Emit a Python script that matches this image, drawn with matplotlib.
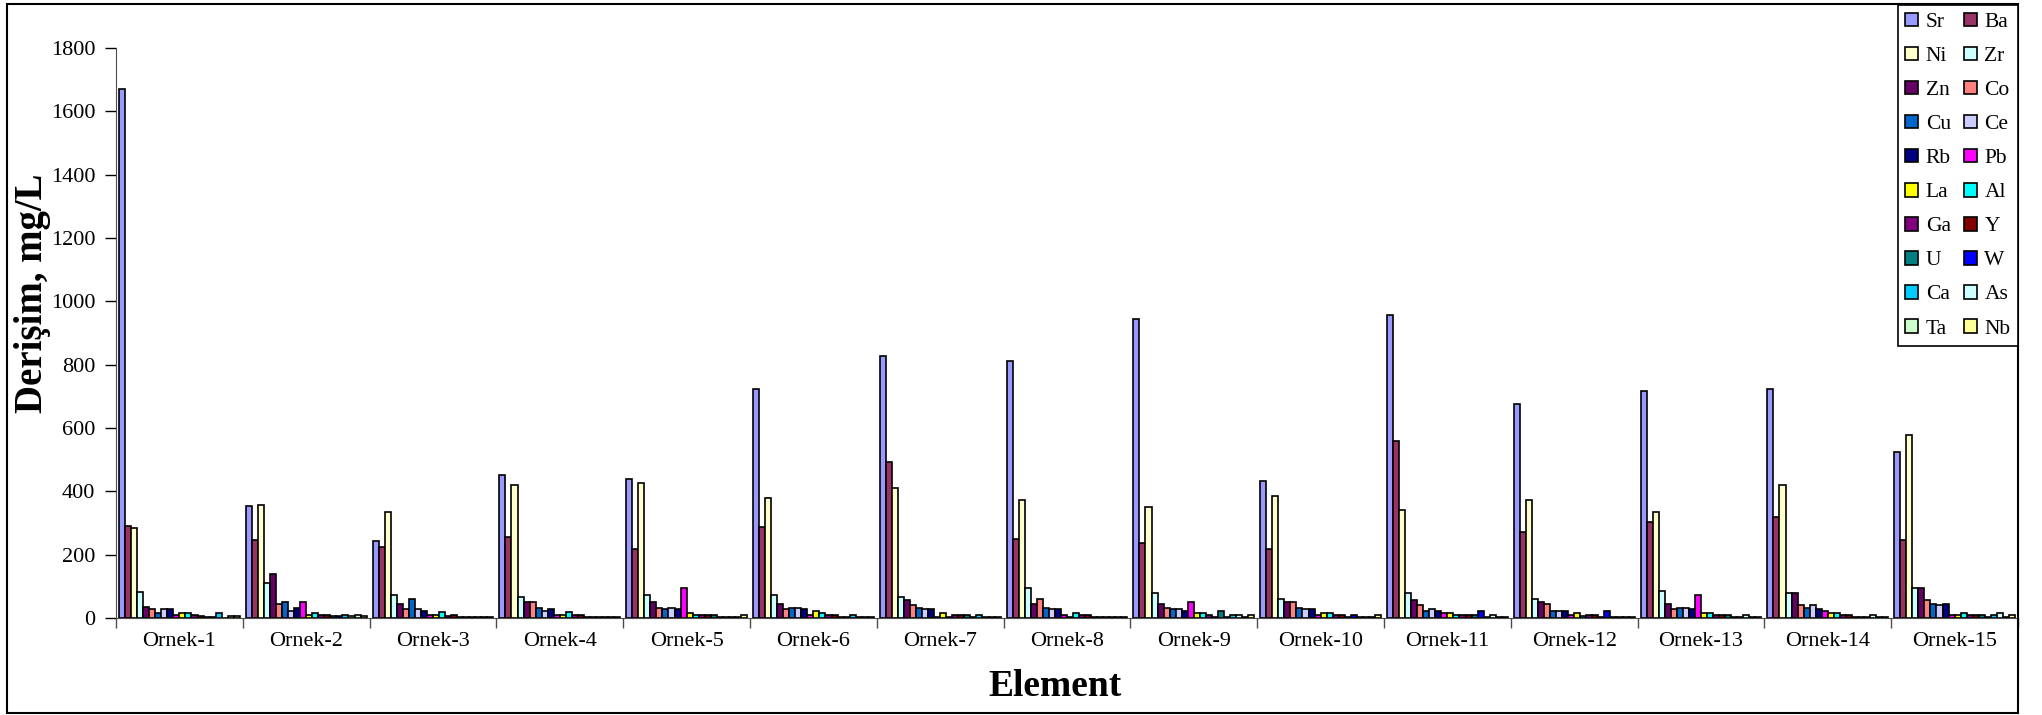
import matplotlib

matplotlib.use("Agg")

import matplotlib.pyplot as plt  # noqa: E402
import numpy as np  # noqa: E402
from matplotlib.patches import Patch, Rectangle  # noqa: E402

plt.rcParams["font.family"] = ["Liberation Serif", "DejaVu Serif"]

SAMPLES = [f"Ornek-{i}" for i in range(1, 16)]

ELEMENTS = ["Sr", "Ba", "Ni", "Zr", "Zn", "Co", "Cu", "Ce", "Rb", "Pb",
            "La", "Al", "Ga", "Y", "U", "W", "Ca", "As", "Ta", "Nb"]

COLORS = ["#9999FF", "#993366", "#FFFFCC", "#CCFFFF", "#660066", "#FF8080",
          "#0066CC", "#CCCCFF", "#000080", "#FF00FF", "#FFFF00", "#00FFFF",
          "#800080", "#800000", "#008080", "#0000FF", "#00CCFF", "#CCFFFF",
          "#CCFFCC", "#FFFF99"]

# concentrations, mg/L, one list per element
Sr = [1670, 355, 243, 452, 440, 722, 828, 812, 945, 434, 957, 677, 716, 722, 525]
Ba = [290, 245, 225, 257, 219, 286, 493, 250, 236, 219, 560, 273, 302, 318, 245]
Ni = [283, 357, 336, 420, 425, 380, 412, 373, 352, 385, 341, 373, 336, 420, 577]
Zr = [82, 110, 73, 66, 73, 73, 66, 95, 79, 61, 78, 61, 84, 78, 95]
Zn = [34, 140, 43, 51, 50, 43, 57, 43, 43, 50, 57, 50, 43, 78, 95]
Co = [29, 43, 27, 51, 33, 29, 40, 61, 33, 50, 40, 43, 28, 40, 57]
Cu = [17, 50, 61, 33, 29, 33, 33, 33, 29, 33, 22, 23, 33, 33, 45]
Ce = [29, 22, 29, 22, 33, 33, 29, 29, 29, 27, 29, 23, 33, 40, 40]
Rb = [29, 33, 22, 29, 29, 29, 29, 29, 23, 29, 23, 23, 29, 29, 45]
Pb = [8, 50, 10, 8, 95, 8, 3, 8, 50, 8, 17, 8, 73, 23, 10]
La = [17, 9, 8, 8, 17, 23, 17, 3, 17, 17, 17, 17, 17, 17, 8]
Al = [17, 17, 18, 18, 8, 17, 3, 17, 17, 17, 8, 6, 17, 17, 17]
Ga = [10, 10, 6, 8, 8, 8, 8, 8, 8, 10, 8, 10, 8, 10, 10]
Y = [6, 10, 11, 8, 8, 8, 8, 8, 3, 10, 8, 10, 8, 10, 10]
U = [3, 6, 3, 3, 8, 3, 8, 3, 23, 3, 8, 3, 8, 3, 10]
W = [3, 5, 3, 3, 3, 3, 3, 3, 3, 10, 23, 23, 3, 3, 3]
Ca = [17, 10, 3, 3, 3, 11, 11, 3, 8, 3, 3, 3, 3, 3, 10]
As = [0, 6, 3, 3, 3, 3, 3, 3, 8, 3, 10, 3, 10, 10, 17]
Ta = [5, 10, 3, 3, 3, 3, 3, 3, 3, 3, 3, 3, 3, 3, 3]
Nb = [5, 6, 3, 3, 11, 3, 3, 3, 10, 10, 3, 3, 3, 3, 10]

SERIES = [Sr, Ba, Ni, Zr, Zn, Co, Cu, Ce, Rb, Pb,
          La, Al, Ga, Y, U, W, Ca, As, Ta, Nb]

W_PX, H_PX, DPI = 2042, 715, 100

fig = plt.figure(figsize=(W_PX / DPI, H_PX / DPI), dpi=DPI)
ax = fig.add_axes([116 / W_PX, 1 - 618 / H_PX, (2018 - 116) / W_PX, (618 - 48) / H_PX])

x = np.arange(len(SAMPLES))
group_w = 0.953
bar_w = group_w / len(ELEMENTS)
for i, (vals, col) in enumerate(zip(SERIES, COLORS)):
    off = -group_w / 2 + bar_w * (i + 0.5)
    ax.bar(x + off, vals, width=bar_w, color=col, edgecolor="black", linewidth=1.2)

ax.set_xlim(-0.5, len(SAMPLES) - 0.5)
ax.set_ylim(0, 1800)
ax.set_yticks(np.arange(0, 1801, 200))
ax.set_xticks(x)
ax.set_xticklabels(SAMPLES)
ax.set_xticks(np.arange(-0.5, len(SAMPLES)), minor=True)
ax.tick_params(axis="x", which="major", length=0, pad=10, labelsize=16)
ax.tick_params(axis="x", which="minor", length=7, width=1, color="0.3", direction="out")
ax.tick_params(axis="y", length=8, width=1, direction="out", pad=7, labelsize=16)
for side in ("top", "right"):
    ax.spines[side].set_visible(False)
ax.spines["left"].set_color("0.3")
ax.spines["bottom"].set_color("0.3")

fig.text(33 / W_PX, 1 - 293 / H_PX, "Derişim, mg/L", rotation=90, ha="center",
         va="center", fontsize=28, fontweight="bold")
fig.text(1055 / W_PX, 1 - 686 / H_PX, "Element", ha="center", va="center",
         fontsize=27, fontweight="bold")

# outer chart frame
fig.patches.append(Rectangle((7 / W_PX, 2 / H_PX), (2018 - 7) / W_PX, (711 - 2) / H_PX,
                             transform=fig.transFigure, fill=False,
                             edgecolor="black", linewidth=1.5))

# legend reads row-wise: Sr Ba / Ni Zr / ...
handles = [Patch(facecolor=c, edgecolor="black", linewidth=1.2, label=e)
           for e, c in zip(ELEMENTS, COLORS)]
order = list(range(0, 20, 2)) + list(range(1, 20, 2))
leg = fig.legend([handles[k] for k in order], [ELEMENTS[k] for k in order],
                 ncol=2, loc="upper right", bbox_to_anchor=(2018 / W_PX, 1 - 5 / H_PX),
                 bbox_transform=fig.transFigure, borderaxespad=0, fontsize=15.5,
                 handlelength=0.6, handleheight=0.6, handletextpad=0.35,
                 columnspacing=0.6, labelspacing=0.68, borderpad=0.35,
                 fancybox=False, framealpha=1, edgecolor="black")
leg.get_frame().set_linewidth(1.2)

fig.savefig("out.png", dpi=DPI)
